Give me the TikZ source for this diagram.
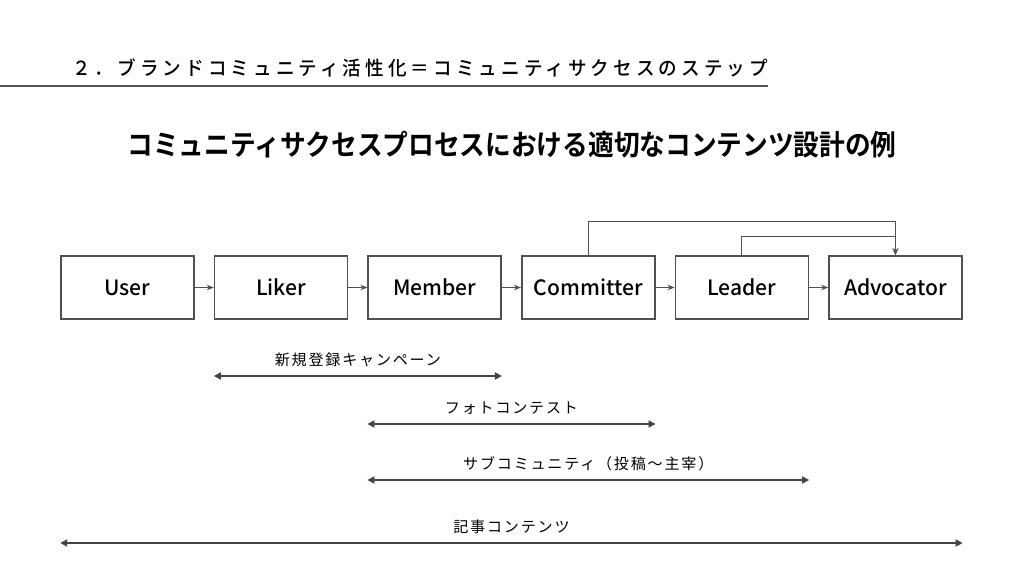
\documentclass[tikz,border=0pt]{standalone}
\usepackage{fontspec}
\setmainfont{Liberation Sans}
\newfontfamily\jpfont{Noto Sans CJK JP}[BoldFont={Noto Sans CJK JP Bold}]
\newfontfamily\jpmedium{Noto Sans CJK JP Medium}
\usetikzlibrary{positioning,arrows.meta}
\definecolor{boxgray}{HTML}{505050}
\definecolor{spangray}{HTML}{444444}
\definecolor{rulegray}{HTML}{555555}
\newcommand\campaign[4]{% from, to, y, label
\draw[span] (#1 |- 0,#3) -- (#2 |- 0,#3) node[spanlabel] {#4};
}

\begin{document}
\begin{tikzpicture}[x=0.025cm,y=-0.025cm,
  node distance=0.475cm,
  stagebox/.style={draw=boxgray,line width=1.1pt,minimum width=3.325cm,
    minimum height=1.575cm,inner sep=0pt,font=\jpmedium\fontsize{15}{17}\selectfont},
  flow/.style={draw=boxgray,line width=0.9pt,-{Stealth[length=5pt,width=4pt]}},
  span/.style={draw=spangray,line width=1.8pt,
    {Triangle[length=5pt,width=5pt]}-{Triangle[length=5pt,width=5pt]}},
  spanlabel/.style={midway,yshift=0.4cm,
    font=\jpfont\fontsize{10.7}{12}\selectfont\addfontfeature{LetterSpace=12}}]
	%% page frame
	\useasboundingbox (0,0) rectangle (1024,576);
	
	% header
	\node[anchor=west,inner sep=0pt,font=\jpmedium\fontsize{13.2}{15}\selectfont\addfontfeature{LetterSpace=22}]
	  (title) at (72,68) {\scalebox{1}[1.05]{２．ブランドコミュニティ活性化＝コミュニティサクセスのステップ}};
	\draw[rulegray,line width=1.6pt] (0,86) -- (768,86);
	
	\node[font=\jpfont\bfseries\fontsize{20.3}{23}\selectfont]
	  (heading) at (512,145) {\scalebox{0.9}[1]{コミュニティサクセスプロセスにおける適切なコンテンツ設計の例}};
	
	% stages
	\node[stagebox] (user) at (127.5,287.5) {User};
	\node[stagebox,right=of user] (liker) {Liker};
	\node[stagebox,right=of liker] (member) {Member};
	\node[stagebox,right=of member] (committer) {Committer};
	\node[stagebox,right=of committer] (leader) {Leader};
	\node[stagebox,right=of leader] (advocator) {Advocator};
	
	\draw[flow] (user) -- (liker);
	\draw[flow] (liker) -- (member);
	\draw[flow] (member) -- (committer);
	\draw[flow] (committer) -- (leader);
	\draw[flow] (leader) -- (advocator);
	
	% jumps to advocator
	\draw[flow] (committer.north) -- ++(0,-34) -| (advocator.north);
	\draw[flow] (leader.north) -- ++(0,-19) -| (advocator.north);
	
	% contents
	\campaign{liker.west}{member.east}{376}{新規登録キャンペーン}
	\campaign{member.west}{committer.east}{424}{フォトコンテスト}
	\campaign{member.west}{leader.east}{480}{サブコミュニティ（投稿～主宰）}
	\campaign{user.west}{advocator.east}{543}{記事コンテンツ}
	
\end{tikzpicture}
\end{document}
